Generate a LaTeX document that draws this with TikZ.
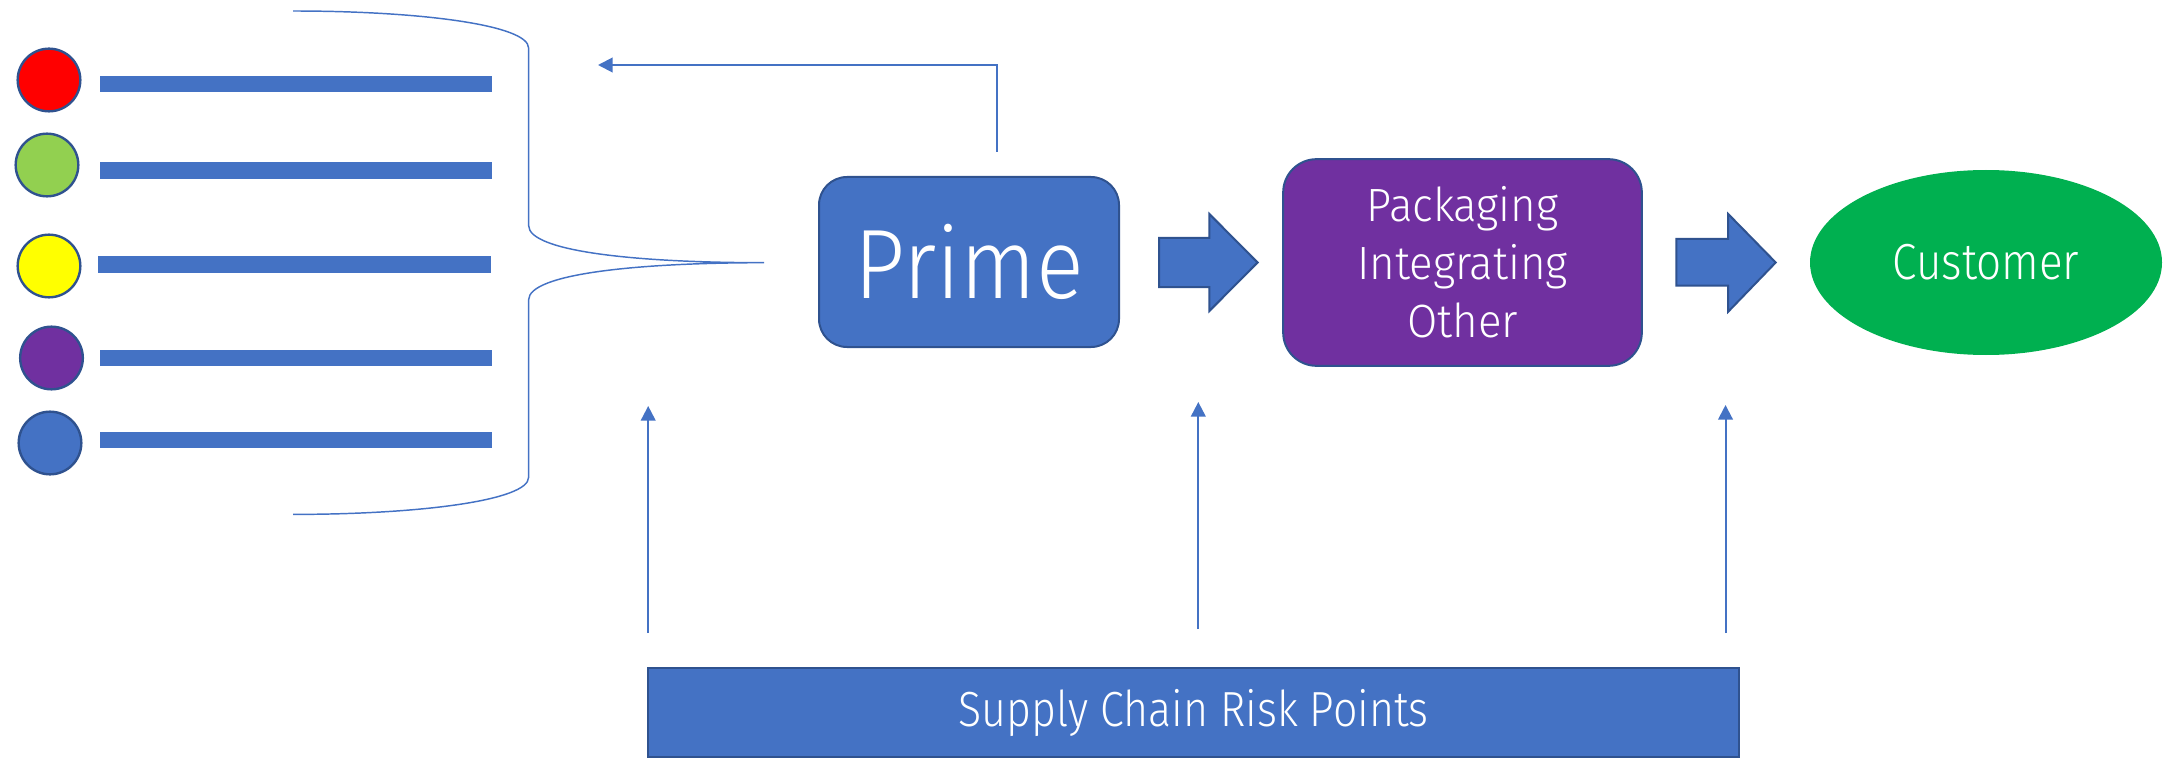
\documentclass[tikz,border=0pt]{standalone}
\usepackage{fontspec}
\setmainfont{Fira Sans Light}
\newfontfamily\widefont{Fira Sans Light}[FakeStretch=0.9]
\newfontfamily\midfont{Fira Sans Light}[FakeStretch=0.94]
\newfontfamily\narrowfont{Fira Sans Light}[FakeStretch=0.87]
\usetikzlibrary{arrows.meta,shapes.geometric}

\definecolor{boxblue}{HTML}{4472C4}
\definecolor{edgeblue}{HTML}{2F528F}
\definecolor{boxpurple}{HTML}{7030A0}
\definecolor{custgreen}{HTML}{00B050}
\definecolor{dotred}{HTML}{FF0000}
\definecolor{dotgreen}{HTML}{92D050}
\definecolor{dotyellow}{HTML}{FFFF00}

\tikzset{every picture/.style={line width=0.75pt}}
\tikzset{
  tierdot/.style={circle,draw=edgeblue,line width=1.8pt,minimum size=47pt,inner sep=0pt},
  stagebox/.style={rectangle,draw=edgeblue,line width=1.5pt,inner sep=0pt,text=white},
  flow/.style={draw=boxblue,line width=1.5pt,-{Triangle[length=11pt,width=11pt]}},
  blockarrow/.style={fill=boxblue,draw=edgeblue,line width=1.5pt},
}

\begin{document}
\begin{tikzpicture}[x=0.75pt,y=0.75pt,yscale=-1,xscale=1]
\useasboundingbox (0,0) rectangle (2172,759);
%Shape: Circle [id:tier1]
\node[tierdot,fill=dotred] (t1) at (49,80) {};
%Shape: Circle [id:tier2]
\node[tierdot,fill=dotgreen] (t2) at (47,165) {};
%Shape: Circle [id:tier3]
\node[tierdot,fill=dotyellow] (t3) at (49,266) {};
%Shape: Circle [id:tier4]
\node[tierdot,fill=boxpurple] (t4) at (51.5,358) {};
%Shape: Circle [id:tier5]
\node[tierdot,fill=boxblue] (t5) at (50,443) {};
%Shape: Rectangle [id:bar1]
\fill[boxblue] (99.5,75.8) rectangle (492.3,91.9);
%Shape: Rectangle [id:bar2]
\fill[boxblue] (99.5,162.5) rectangle (492.3,178.8);
%Shape: Rectangle [id:bar3]
\fill[boxblue] (98,256.5) rectangle (491,272.8);
%Shape: Rectangle [id:bar4]
\fill[boxblue] (99.5,349.5) rectangle (492.3,365.7);
%Shape: Rectangle [id:bar5]
\fill[boxblue] (99.5,432) rectangle (492.3,448.2);
%Shape: Right Brace [id:brace]
\draw[boxblue,line width=1.1pt] (293,11) .. controls (420,11) and (528.6,25) .. (528.6,48) -- (528.6,225.5) .. controls (528.6,252) and (640,262.7) .. (764,262.7) .. controls (640,262.7) and (528.6,273.4) .. (528.6,299.9) -- (528.6,477.4) .. controls (528.6,500.4) and (420,514.4) .. (293,514.4) ;
%Shape: Rounded Rectangle [id:prime]
\node[stagebox,fill=boxblue,rounded corners=21pt,minimum width=225pt,minimum height=127.5pt,font=\widefont\fontsize{74}{74}\selectfont] (prime) at (969,262) {Prime};
%Shape: Rounded Rectangle [id:pack]
\node[stagebox,fill=boxpurple,rounded corners=25pt,minimum width=269pt,minimum height=155pt,align=center,font=\midfont\fontsize{35}{43.5}\selectfont] (pack) at (1462.5,262.5) {Packaging\\Integrating\\Other};
%Shape: Ellipse [id:cust]
\node[ellipse,fill=custgreen,inner sep=0pt,minimum width=264pt,minimum height=138.75pt,text=white,font=\narrowfont\fontsize{38}{38}\selectfont] (cust) at (1986,262.5) {Customer};
%Shape: Rectangle [id:risk]
\node[stagebox,fill=boxblue,minimum width=818pt,minimum height=67pt,font=\narrowfont\fontsize{37}{37}\selectfont] (risk) at (1193.7,712.5) {Supply Chain Risk Points};
%Shape: Right Arrow [id:step1]
\draw[blockarrow] (1159,238) -- (1209.4,238) -- (1209.4,214) -- (1257.6,262.5) -- (1209.4,311) -- (1209.4,287) -- (1159,287) -- cycle ;
%Shape: Right Arrow [id:step2]
\draw[blockarrow] (1676.3,239) -- (1728.2,239) -- (1728.2,214) -- (1775.7,262.5) -- (1728.2,311.7) -- (1728.2,285.7) -- (1676.3,285.7) -- cycle ;
%Straight Lines [id:feedback]
\coordinate (fb) at (997,152);
\coordinate (fbend) at (598,65);
\draw[flow] (fb) |- (fbend);
%Straight Lines [id:risk1]
\coordinate (r1) at (648.2,633);
\coordinate (r1end) at (648.2,406);
\draw[flow] (r1) -- (r1end);
%Straight Lines [id:risk2]
\coordinate (r2) at (1198.3,629);
\coordinate (r2end) at (1198.3,402);
\draw[flow] (r2) -- (r2end);
%Straight Lines [id:risk3]
\coordinate (r3) at (1725.5,633);
\coordinate (r3end) at (1725.5,405);
\draw[flow] (r3) -- (r3end);
\end{tikzpicture}
\end{document}
